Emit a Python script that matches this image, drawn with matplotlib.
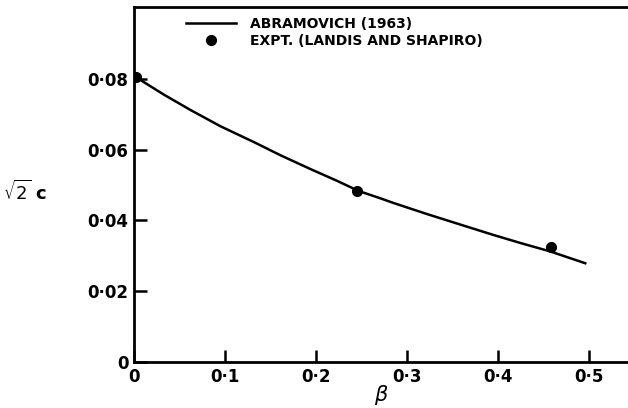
import matplotlib
matplotlib.use("Agg")
import matplotlib.pyplot as plt

# curve (Abramovich 1963)
beta_curve = [0.0, 0.033, 0.062, 0.095, 0.132, 0.161, 0.194, 0.223, 0.247, 0.269,
              0.2855, 0.322, 0.359, 0.395, 0.425, 0.458, 0.496]
c_curve = [0.0808, 0.0755, 0.0712, 0.0666, 0.0621, 0.0584, 0.0545, 0.0512, 0.0483, 0.0464,
           0.0449, 0.0418, 0.0388, 0.0359, 0.0336, 0.0312, 0.0279]

# experiments (Landis and Shapiro)
beta_expt = [0.002, 0.245, 0.4585]
c_expt = [0.0805, 0.0483, 0.0326]

x_ticks = [0, 0.1, 0.2, 0.3, 0.4, 0.5]
x_labels = ["0", "0·1", "0·2", "0·3", "0·4", "0·5"]
y_ticks = [0, 0.02, 0.04, 0.06, 0.08]
y_labels = ["0", "0·02", "0·04", "0·06", "0·08"]

fig = plt.figure(figsize=(6.28, 4.08), dpi=100)
ax = fig.add_axes([0.2134, 0.1127, 0.7866, 0.8703])

ax.plot(beta_curve, c_curve, color="black", lw=1.8, label="ABRAMOVICH (1963)")
ax.plot(beta_expt, c_expt, "o", color="black", ms=7, label="EXPT. (LANDIS AND SHAPIRO)")

ax.set_xlim(0, 0.543)
ax.set_ylim(0, 0.1003)
ax.spines["right"].set_visible(False)
for s in ["left", "bottom", "top"]:
    ax.spines[s].set_linewidth(2)

ax.set_xticks(x_ticks)
ax.set_xticklabels(x_labels)
ax.set_yticks(y_ticks)
ax.set_yticklabels(y_labels)
ax.tick_params(direction="in", length=9, width=1.8, labelsize=12, pad=4)
for lab in ax.get_xticklabels() + ax.get_yticklabels():
    lab.set_fontweight("bold")

ax.set_xlabel(r"$\beta$", fontsize=15)
ax.xaxis.set_label_coords(0.5, -0.06)
ax.set_ylabel(r"$\sqrt{2}$ c", fontsize=13, fontweight="bold", rotation=0,
              ha="center", va="center")
ax.yaxis.set_label_coords(-0.22, 0.48)

ax.legend(loc="upper left", bbox_to_anchor=(0.085, 1.0), frameon=False,
          prop={"weight": "bold", "size": 10}, handlelength=3.6, handletextpad=1.0,
          labelspacing=0.25, numpoints=1, borderaxespad=0.3)

fig.savefig("out.png", dpi=100)
